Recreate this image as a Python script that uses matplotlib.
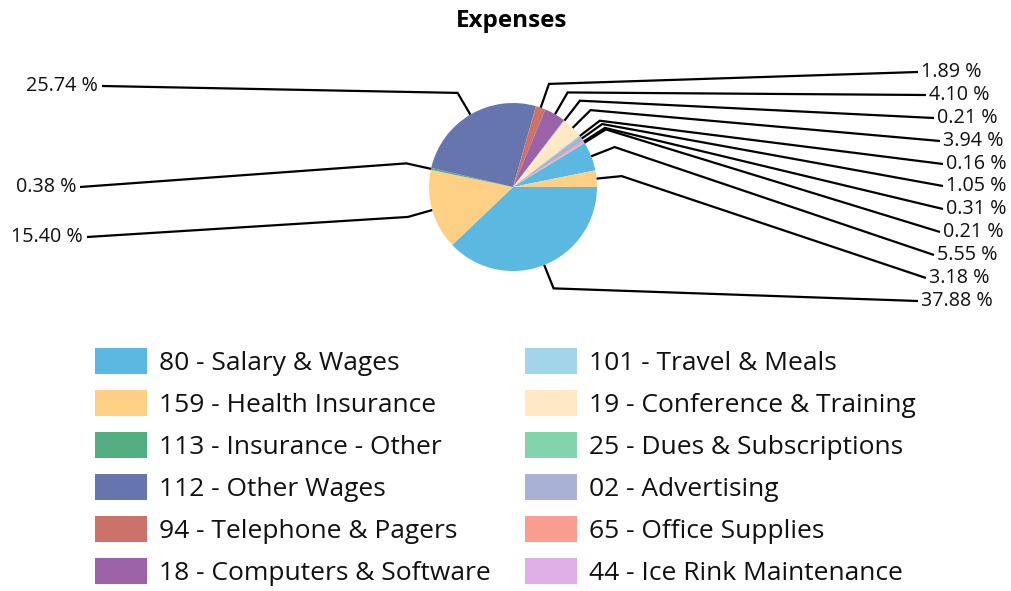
import matplotlib
matplotlib.use("Agg")
import matplotlib.pyplot as plt
from matplotlib.patches import Rectangle
import numpy as np

plt.rcParams['font.family'] = ['Open Sans', 'DejaVu Sans']

# ---- data ----
categories = ["80 - Salary & Wages", "159 - Health Insurance", "113 - Insurance - Other",
              "112 - Other Wages", "94 - Telephone & Pagers", "18 - Computers & Software",
              "101 - Travel & Meals", "19 - Conference & Training", "25 - Dues & Subscriptions",
              "02 - Advertising", "65 - Office Supplies", "44 - Ice Rink Maintenance"]
percent_values = [37.88, 15.40, 0.38, 25.74, 1.89, 4.10, 0.21, 3.94, 0.16, 1.05, 0.31, 0.21, 5.55, 3.18]
palette = ["#5BB8E0", "#FDD086", "#52AD80", "#6675AE", "#CB7369", "#9C62A8",
           "#A2D4EA", "#FFE8C4", "#83D4AD", "#A9B2D5", "#F99D90", "#E0AEE6"]

# ---- layout (pixels) ----
W, H = 1011, 591
cx, cy, R = 513, 187, 84
elbow_factor = 1.3
# label anchor positions (x, y, side) for each slice, in slice order
label_pos = [(921, 301, 'r'), (83, 237, 'l'), (76, 187, 'l'), (98, 86, 'l'),
             (921, 72, 'r'), (929, 95, 'r'), (937, 118, 'r'), (943, 141, 'r'),
             (946, 164, 'r'), (946, 186, 'r'), (946, 209, 'r'), (943, 232, 'r'),
             (937, 255, 'r'), (929, 278, 'r')]

fig = plt.figure(figsize=(W / 100, H / 100), dpi=100)

# pie axes
ax = fig.add_axes([(cx - R) / W, (H - cy - R) / H, 2 * R / W, 2 * R / H])
colors = [palette[i % len(palette)] for i in range(len(percent_values))]
wedges, _ = ax.pie(percent_values, colors=colors, startangle=0, counterclock=False,
                   radius=1, wedgeprops=dict(linewidth=0))
ax.set_xlim(-1, 1)
ax.set_ylim(-1, 1)
ax.set_aspect('auto')
ax.axis('off')

# overlay axes in pixel coordinates
ov = fig.add_axes([0, 0, 1, 1], facecolor='none')
ov.set_xlim(0, W)
ov.set_ylim(H, 0)
ov.axis('off')

for w, val, (lx, ly, side) in zip(wedges, percent_values, label_pos):
    mid = np.deg2rad((w.theta1 + w.theta2) / 2)
    ex, ey = cx + R * np.cos(mid), cy - R * np.sin(mid)
    bx, by = cx + R * elbow_factor * np.cos(mid), cy - R * elbow_factor * np.sin(mid)
    endx = lx - 3 if side == 'r' else lx + 4
    ov.plot([ex, bx, endx], [ey, by, ly], color='black', lw=1.6, solid_joinstyle='miter',
            solid_capstyle='butt')
    ov.text(lx, ly, f"{val:.2f} %", ha='left' if side == 'r' else 'right',
            va='center', fontsize=14.2, color='#111111')

# title
ov.text(512, 21, "Expenses", ha='center', va='center', fontsize=17.5, fontweight='bold')

# legend (two columns of six)
col_x = [95, 525]
row_y0, row_step = 361, 42
for i, (cat, col) in enumerate(zip(categories, palette)):
    c, r = divmod(i, 6)
    x = col_x[c]
    y = row_y0 + r * row_step
    ov.add_patch(Rectangle((x, y - 13), 52, 26, facecolor=col, edgecolor='none'))
    ov.text(x + 64, y + 2, cat, ha='left', va='center', fontsize=19, color='#111111')

fig.savefig("out.png", dpi=100)
